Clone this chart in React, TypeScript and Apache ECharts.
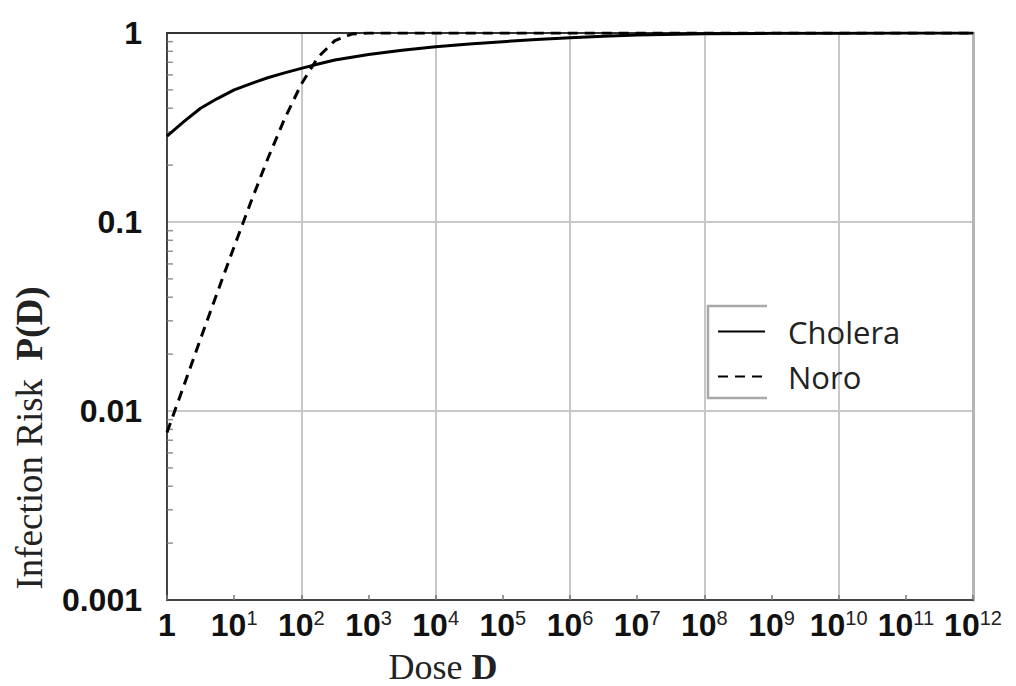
import React, { useEffect, useRef } from "react";
import * as echarts from "echarts";

// Dose values (D) and infection risk P(D)
const doseCholera = [1, 1.78, 3.16, 5.62, 10, 17.8, 31.6, 56.2, 100, 178, 316, 562, 1e3, 3.16e3, 1e4, 3.16e4, 1e5, 3.16e5, 1e6, 3.16e6, 1e7, 1e8, 1e9, 1e10, 1e11, 1e12];
const riskCholera = [0.285, 0.34, 0.4, 0.45, 0.5, 0.54, 0.58, 0.615, 0.65, 0.685, 0.72, 0.745, 0.77, 0.81, 0.845, 0.875, 0.9, 0.925, 0.945, 0.962, 0.975, 0.99, 0.996, 0.998, 0.999, 1.0];

const doseNoro = [1, 1.78, 3.16, 5.62, 10, 17.8, 31.6, 56.2, 100, 178, 316, 562, 1e3, 1e4, 1e5, 1e6, 1e7, 1e8, 1e9, 1e10, 1e11, 1e12];
const riskNoro = [0.0077, 0.0136, 0.0241, 0.0424, 0.0741, 0.128, 0.216, 0.351, 0.537, 0.746, 0.912, 0.987, 0.9995, 1, 1, 1, 1, 1, 1, 1, 1, 1];

// log-spaced minor tick positions on the left axis
const yMinorTicks = [
  0.002, 0.003, 0.004, 0.005, 0.006, 0.007, 0.008, 0.009,
  0.02, 0.03, 0.04, 0.05, 0.06, 0.07, 0.08, 0.09,
  0.2, 0.3, 0.4, 0.5, 0.6, 0.7, 0.8, 0.9,
];

const seriesNames = ["Cholera", "Noro"];
const xAxisTitle = "Dose";
const xAxisTitleBold = "D";
const yAxisTitle = "Infection Risk";
const yAxisTitleBold = "P(D)";

export default function App() {
  const ref = useRef<HTMLDivElement>(null);

  useEffect(() => {
    if (!ref.current) return;
    const chart = echarts.init(ref.current, null, { renderer: "svg" });

    const labelFont = "'Liberation Sans', Arial, sans-serif";
    const serif = "'Liberation Serif', 'Times New Roman', serif";

    const option: any = {
      animation: false,
      backgroundColor: "#ffffff",
      grid: { left: 167, right: 43, top: 33, bottom: 86, outerBoundsMode: "none" },
      legend: {
        data: seriesNames,
        orient: "vertical",
        left: 717,
        top: 316,
        padding: 0,
        itemWidth: 47,
        itemHeight: 14,
        itemGap: 14,
        itemStyle: { opacity: 0 },
        textStyle: {
          fontFamily: "'Open Sans', sans-serif",
          fontSize: 31,
          lineHeight: 31,
          color: "#222",
          padding: [0, 0, 0, 18],
        },
      },
      xAxis: [
        {
          type: "log",
          logBase: 10,
          min: 1,
          max: 1e12,
          interval: 1,
          position: "bottom",
          axisLine: { show: true, lineStyle: { color: "#444", width: 2 } },
          axisTick: { show: true, inside: true, length: 5, lineStyle: { color: "#777", width: 1.5 } },
          splitLine: { show: false },
          axisLabel: {
            margin: 8,
            formatter: (v: number) => {
              const e = Math.round(Math.log10(v));
              return e === 0 ? "{b|1}" : `{b|10}{s|${e}}`;
            },
            rich: {
              b: { fontFamily: labelFont, fontSize: 32, fontWeight: "bold", color: "#111", lineHeight: 34 },
              s: { fontFamily: labelFont, fontSize: 20, color: "#222", verticalAlign: "top", lineHeight: 34 },
            },
          },
        },
        {
          type: "log",
          logBase: 10,
          min: 1,
          max: 1e12,
          interval: 2,
          position: "top",
          axisLine: { show: true, lineStyle: { color: "#333", width: 2 } },
          axisTick: { show: false },
          axisLabel: { show: false },
          splitLine: { show: true, lineStyle: { color: "#c8c8c8", width: 2 } },
        },
      ],
      yAxis: [
        {
          type: "log",
          logBase: 10,
          min: 0.001,
          max: 1,
          interval: 1,
          position: "left",
          axisLine: { show: true, lineStyle: { color: "#444", width: 2 } },
          axisTick: { show: false },
          splitLine: { show: true, lineStyle: { color: "#c8c8c8", width: 2 } },
          axisLabel: {
            margin: 25,
            fontFamily: labelFont,
            fontSize: 32,
            fontWeight: "bold",
            color: "#111",
            padding: [0, 0, 12, 0],
            formatter: (v: number) => {
              const e = Math.round(Math.log10(v));
              return e === 0 ? "1" : Math.pow(10, e).toFixed(-e);
            },
          },
        },
        {
          type: "log",
          logBase: 10,
          min: 0.001,
          max: 1,
          position: "right",
          axisLine: { show: true, lineStyle: { color: "#b5b5b5", width: 3 } },
          axisTick: { show: false },
          axisLabel: { show: false },
          splitLine: { show: false },
        },
      ],
      series: [
        {
          name: seriesNames[0],
          type: "line",
          xAxisIndex: 0,
          yAxisIndex: 0,
          data: doseCholera.map((d, i) => [d, riskCholera[i]]),
          showSymbol: false,
          symbol: "none",
          smooth: false,
          lineStyle: { color: "#000", width: 3, type: "solid" },
          itemStyle: { color: "#000" },
          z: 5,
        },
        {
          name: seriesNames[1],
          type: "line",
          xAxisIndex: 0,
          yAxisIndex: 0,
          data: doseNoro.map((d, i) => [d, riskNoro[i]]),
          showSymbol: false,
          symbol: "none",
          smooth: false,
          lineStyle: { color: "#000", width: 3, type: [10, 7] },
          itemStyle: { color: "#000" },
          z: 6,
        },
        {
          name: "minorTicks",
          type: "scatter",
          xAxisIndex: 0,
          yAxisIndex: 0,
          data: yMinorTicks.map((y) => [1, y]),
          symbol: "rect",
          symbolSize: [6, 1.5],
          symbolOffset: [3, 0],
          itemStyle: { color: "#777" },
          silent: true,
          clip: false,
          z: 3,
        },
      ],
      graphic: [
        {
          type: "text",
          x: 29,
          y: 438,
          rotation: Math.PI / 2,
          style: {
            text: `{a|${yAxisTitle}}  {b|${yAxisTitleBold}}`,
            align: "center",
            verticalAlign: "middle",
            fill: "#222",
            font: `37px ${serif}`,
            rich: {
              a: { fontFamily: serif, fontSize: 37, fill: "#222" },
              b: { fontFamily: serif, fontSize: 37, fontWeight: "bold", fill: "#222" },
            },
          },
        },
        {
          type: "text",
          x: 443,
          y: 667,
          style: {
            text: `{a|${xAxisTitle}} {b|${xAxisTitleBold}}`,
            align: "center",
            verticalAlign: "middle",
            fill: "#222",
            font: `36px ${serif}`,
            rich: {
              a: { fontFamily: serif, fontSize: 36, fill: "#222" },
              b: { fontFamily: serif, fontSize: 36, fontWeight: "bold", fill: "#222" },
            },
          },
        },
        {
          type: "polyline",
          shape: { points: [[767, 306], [708, 306], [708, 398], [767, 398]] },
          style: { stroke: "#a8a8a8", lineWidth: 2.5, fill: "none" },
          z: 10,
        },
      ],
    };

    chart.setOption(option);
    return () => chart.dispose();
  }, []);

  return (
    <div
      ref={ref}
      style={{ position: "fixed", left: 0, top: 0, width: 1016, height: 686, background: "#fff" }}
    />
  );
}
